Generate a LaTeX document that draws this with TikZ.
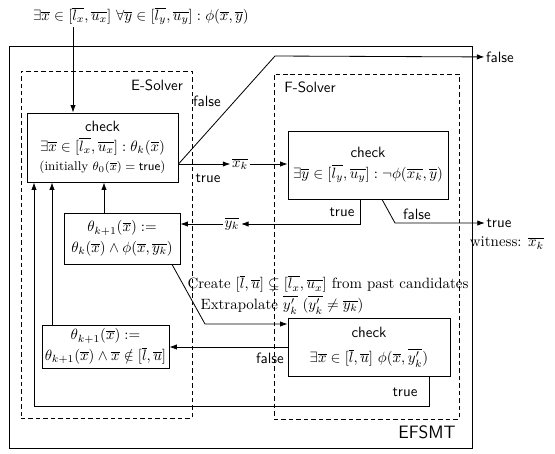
\documentclass[tikz,border=0pt]{standalone}
\usepackage{amsmath,amssymb}
\usetikzlibrary{arrows.meta,calc}
\newcommand\pxu{0.67pt}
\begin{document}
\begin{tikzpicture}[x=\pxu,y=-\pxu,
  arr/.style={-{Latex[length=5pt,width=3.6pt]},line width=0.55pt},
  boxn/.style={draw,line width=0.55pt,align=center,inner sep=0pt},
  solver/.style={draw,line width=0.5pt,dash pattern=on 3pt off 2pt},
  lbl/.style={font=\sffamily,inner sep=1pt},
  txt/.style={inner sep=1pt}]
\useasboundingbox (0,0) rectangle (555,453);
% outer frame and solver regions
\node[draw,line width=0.6pt,minimum width=463*\pxu,minimum height=402*\pxu,inner sep=0pt] (efsmt) at (240.5,247) {};
\node[lbl,font=\sffamily\large] (efsmtl) at (427,432) {EFSMT};
\node[solver,minimum width=171*\pxu,minimum height=347*\pxu,inner sep=0pt] (es) at (106.5,244.5) {};
\node[lbl] (esl) at (157,85) {E-Solver};
\node[solver,minimum width=185*\pxu,minimum height=345*\pxu,inner sep=0pt] (fs) at (366.5,246.5) {};
\node[lbl] (fsl) at (310,87) {F-Solver};
% formula on top
\node[txt] (f) at (141,16) {$\exists \overline{x} \in [\overline{l_x}, \overline{u_x}]\ \forall \overline{y} \in [\overline{l_y}, \overline{u_y}] : \phi(\overline{x}, \overline{y})$};
% boxes
\node[boxn,line width=0.65pt,minimum width=151*\pxu,minimum height=69*\pxu] (c1) at (102.5,147.5)
  {\textsf{check}\\[1pt] $\exists \overline{x} \in [\overline{l_x}, \overline{u_x}] : \theta_k(\overline{x})$\\[1pt]
   {\fontsize{8.5}{10}\selectfont (initially $\theta_0(\overline{x}) = \textsf{true}$)}};
\node[boxn,minimum width=160*\pxu,minimum height=68*\pxu] (c2) at (368,165)
  {\textsf{check}\\[1.5pt] $\exists \overline{y} \in [\overline{l_y}, \overline{u_y}] : \neg\phi(\overline{x_k}, \overline{y})$};
\node[boxn,minimum width=116*\pxu,minimum height=51*\pxu] (t1) at (122,238.5)
  {$\theta_{k+1}(\overline{x}) :=$\\[2pt] $\theta_k(\overline{x}) \wedge \phi(\overline{x}, \overline{y_k})$};
\node[boxn,minimum width=127*\pxu,minimum height=43*\pxu] (t2) at (105.5,346.5)
  {$\theta_{k+1}(\overline{x}) :=$\\[2pt] $\theta_{k+1}(\overline{x}) \wedge \overline{x} \notin [\overline{l}, \overline{u}]$};
\node[boxn,minimum width=162*\pxu,minimum height=58*\pxu] (c3) at (369,347)
  {\textsf{check}\\[5pt] $\exists \overline{x} \in [\overline{l}, \overline{u}]\ \phi(\overline{x}, \overline{y'_k})$};
% edge labels / intermediate nodes
\node[txt] (xk) at (240,164) {$\overline{x_k}$};
\node[txt] (yk) at (232,224) {$\overline{y_k}$};
\node[lbl] (fout) at (500,57) {false};
\node[lbl] (tout) at (499,223) {true};
\node[txt] (wit) at (507,243) {witness: $\overline{x_k}$};
\node[lbl] (l1) at (207,101) {false};
\node[lbl] (l2) at (208,178) {true};
\node[lbl] (l3) at (342,212) {true};
\node[lbl] (l4) at (417,214) {false};
\node[lbl] (l5) at (270,358) {false};
\node[lbl] (l6) at (405,392) {true};
\node[txt] (cr) at (328,284) {Create $[\overline{l}, \overline{u}] \subsetneq [\overline{l_x}, \overline{u_x}]$ from past candidates};
\node[txt] (ex) at (282,305) {Extrapolate $\overline{y'_k}$ ($\overline{y'_k} \neq \overline{y_k}$)};
% bend coordinates
\coordinate (b1) at (275,56);
\coordinate (b2) at (395,223);
\coordinate (b3) at (205,324);
\coordinate (b4) at (429,406);
% connectors
\draw[arr] (73,0 |- f.south) -- (73,0 |- c1.north);
\draw[arr] (c1.east |- xk) -- (xk);
\draw[arr] (xk) -- (xk -| c2.west);
\draw[arr] (c1.east |- xk) -- (b1) -- (fout);
\draw[arr] (360,0 |- c2.south) -- (360,224) -- (yk);
\draw[arr] (yk) -- (yk -| t1.east);
\draw[arr] (382,0 |- c2.south) -- (b2) -- (tout);
\draw[arr] (172,0 |- t1.south) -- (b3) -- (b3 -| c3.west);
\draw[arr] (c3.west |- 0,347) -- (t2.east |- 0,347);
\draw[arr] (429,0 |- c3.south) -- (b4) -- (34,406) -- (34,0 |- c1.south);
\draw[arr] (52,0 |- t2.north) -- (52,0 |- c1.south);
\draw[arr] (104,0 |- t1.north) -- (104,0 |- c1.south);
\end{tikzpicture}
\end{document}
